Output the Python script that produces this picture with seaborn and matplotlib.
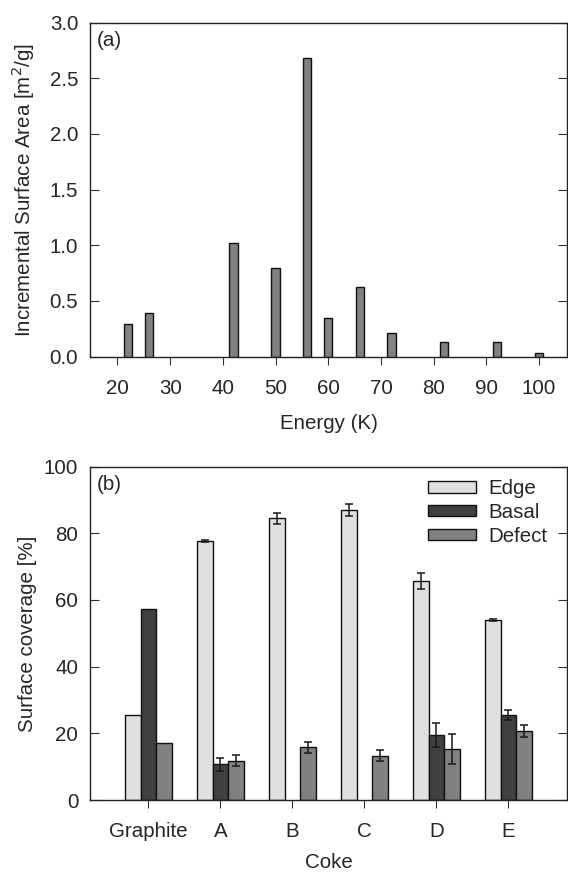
import numpy as np
import pandas as pd
import matplotlib
matplotlib.use("Agg")
import matplotlib.pyplot as plt
import seaborn as sns

# ---- data: panel (a)
energy = [22, 26, 42, 50, 56, 60, 66, 72, 82, 92, 100]
area = [0.29, 0.39, 1.02, 0.80, 2.68, 0.345, 0.63, 0.213, 0.13, 0.135, 0.033]

# ---- data: panel (b)
cokes = ["Graphite", "A", "B", "C", "D", "E"]
sites = ["Edge", "Basal", "Defect"]
edge = [25.6, 77.7, 84.5, 87.0, 65.6, 54.1]
basal = [57.4, 10.7, np.nan, np.nan, 19.4, 25.4]
defect = [17.2, 11.8, 15.8, 13.3, 15.3, 20.7]
edge_err = [np.nan, 0.4, 1.6, 1.7, 2.45, 0.3]
basal_err = [np.nan, 1.85, np.nan, np.nan, 3.6, 1.5]
defect_err = [np.nan, 1.6, 1.55, 1.6, 4.55, 1.75]

site_colors = {"Edge": "#e0e0e0", "Basal": "#404040", "Defect": "#808080"}

FS = 14.8

sns.set_style("ticks")
plt.rcParams["font.family"] = ["Liberation Sans", "DejaVu Sans"]
plt.rcParams["font.size"] = FS
plt.rcParams["axes.linewidth"] = 1.0
plt.rcParams["axes.edgecolor"] = "#222222"

fig = plt.figure(figsize=(5.68, 8.75), dpi=100)
ax1 = fig.add_axes([0.1585, 0.5924, 0.8397, 0.3817])
ax2 = fig.add_axes([0.1585, 0.0857, 0.8397, 0.381])

# ---- panel (a)
dfa = pd.DataFrame({"Energy": energy, "Area": area})
sns.barplot(data=dfa, x="Energy", y="Area", native_scale=True, width=0.4,
            color="#808080", saturation=1, edgecolor="#111111", linewidth=1.0,
            errorbar=None, ax=ax1)
ax1.set_xlim(14.8, 105.3)
ax1.set_ylim(0, 3.0)
ax1.set_xticks([20, 30, 40, 50, 60, 70, 80, 90, 100])
ax1.set_yticks(np.arange(0, 3.01, 0.5))
ax1.set_yticklabels([f"{v:.1f}" for v in np.arange(0, 3.01, 0.5)])
ax1.set_xlabel("Energy (K)")
ax1.set_ylabel("Incremental Surface Area [m$^2$/g]")
ax1.text(0.014, 0.975, "(a)", transform=ax1.transAxes, ha="left", va="top")

# ---- panel (b)
rows = []
for i, c in enumerate(cokes):
    for s, vals in zip(sites, [edge, basal, defect]):
        rows.append({"Coke": c, "Site": s, "Coverage": vals[i]})
dfb = pd.DataFrame(rows)
w = 0.65
sns.barplot(data=dfb, x="Coke", y="Coverage", hue="Site", order=cokes,
            hue_order=sites, palette=site_colors, saturation=1, width=w,
            edgecolor="#111111", linewidth=1.0, errorbar=None, ax=ax2)

for j, (vals, errs) in enumerate(zip([edge, basal, defect],
                                     [edge_err, basal_err, defect_err])):
    xs = np.arange(len(cokes)) + (j - 1) * w / 3
    v = np.array(vals, dtype=float)
    e = np.array(errs, dtype=float)
    m = ~np.isnan(v) & ~np.isnan(e)
    ax2.errorbar(xs[m], v[m], yerr=e[m], fmt="none", ecolor="#1a1a1a",
                 elinewidth=1.1, capsize=2.6, capthick=1.1)

ax2.set_xlim(-0.81, 5.815)
ax2.set_ylim(0, 100)
ax2.set_yticks([0, 20, 40, 60, 80, 100])
ax2.set_xlabel("Coke")
ax2.set_ylabel("Surface coverage [%]")
ax2.text(0.014, 0.975, "(b)", transform=ax2.transAxes, ha="left", va="top")

handles, labels = ax2.get_legend_handles_labels()
leg = ax2.legend(handles, labels, loc="upper left", bbox_to_anchor=(0.709, 0.962),
                 frameon=False, borderpad=0, borderaxespad=0, handlelength=2.35,
                 handleheight=0.45, handletextpad=0.58, labelspacing=0.24,
                 fontsize=FS)
for h in leg.legend_handles:
    h.set_edgecolor("#111111")
    h.set_linewidth(1.0)

for ax in (ax1, ax2):
    for sp in ax.spines.values():
        sp.set_visible(True)
        sp.set_color("#222222")
    ax.tick_params(axis="y", direction="in", length=6.5, left=True, right=True,
                   pad=8.4, color="#333333", labelsize=FS)
    ax.tick_params(axis="x", direction="out", length=6, top=False, bottom=True,
                   pad=10.0, color="#333333", labelsize=FS)
    ax.xaxis.label.set_size(FS)
    ax.yaxis.label.set_size(FS)

ax1.yaxis.set_label_coords(-0.112, 0.5)
ax2.yaxis.set_label_coords(-0.112, 0.5)
ax1.xaxis.set_label_coords(0.5, -0.172)
ax2.xaxis.set_label_coords(0.5, -0.158)

fig.savefig("out.png", dpi=100)
